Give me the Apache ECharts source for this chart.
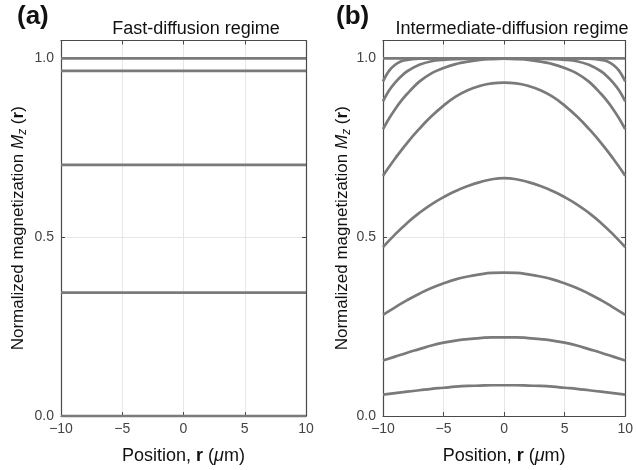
<!DOCTYPE html>
<html><head><meta charset="utf-8">
<script src="https://cdn.jsdelivr.net/npm/echarts@6/dist/echarts.min.js"></script>
<style>html,body{margin:0;padding:0;background:#fff}#c{width:636px;height:470px}</style>
</head><body><div id="c"></div>
<script>
// ---------- data ----------
const xTicks = [-10, -5, 0, 5, 10];
const yTicks = [0.0, 0.5, 1.0];
const xRange = [-10, 10];
// panel (a): flat magnetization levels
const fastLevels = [1.0, 0.965, 0.702, 0.345, 0.0];
// panel (b): positions and profiles
const xPositionsFine = [-10,-9.5,-9,-8.5,-8,-7,-6,-5,-4,-3,-2,-1,0,1,2,3,4,5,6,7,8,8.5,9,9.5,10];
const xPositions = [-10,-9,-8,-7,-6,-5,-4,-3,-2,-1,0,1,2,3,4,5,6,7,8,9,10];
const curveFlat = [1,1,1,1,1,1,1,1,1,1,1,1,1,1,1,1,1,1,1,1,1];
const curveA = [0.936,0.965,0.982,0.992,0.996,0.999,1,1,1,1,1,1,1,1,1,1,1,1,1,0.999,0.996,0.992,0.982,0.965,0.936];
const curveB = [0.880,0.910,0.932,0.950,0.964,0.982,0.992,0.996,0.998,0.999,1,1,1,1,1,0.999,0.998,0.996,0.992,0.982,0.964,0.950,0.932,0.910,0.880];
const curveC = [0.802,0.832,0.858,0.881,0.901,0.935,0.958,0.973,0.984,0.991,0.996,0.998,0.999,0.998,0.996,0.991,0.984,0.973,0.958,0.935,0.901,0.881,0.858,0.832,0.802];
const curveD = [0.672,0.720,0.764,0.803,0.838,0.868,0.893,0.911,0.923,0.930,0.932,0.930,0.923,0.911,0.893,0.868,0.838,0.803,0.764,0.720,0.672];
const curveE = [0.472,0.508,0.540,0.568,0.592,0.612,0.629,0.643,0.654,0.662,0.665,0.662,0.654,0.643,0.629,0.612,0.592,0.568,0.540,0.508,0.472];
const curveF = [0.283,0.304,0.324,0.342,0.358,0.371,0.382,0.390,0.396,0.400,0.401,0.400,0.396,0.390,0.382,0.371,0.358,0.342,0.324,0.304,0.283];
const curveG = [0.155,0.166,0.177,0.187,0.197,0.205,0.211,0.215,0.218,0.220,0.220,0.220,0.218,0.215,0.211,0.205,0.197,0.187,0.177,0.166,0.155];
const curveH = [0.060,0.064,0.068,0.072,0.076,0.079,0.082,0.084,0.085,0.086,0.086,0.086,0.085,0.084,0.082,0.079,0.076,0.072,0.068,0.064,0.060];
const fineCurves = [curveA, curveB, curveC];
const coarseCurves = [curveFlat, curveD, curveE, curveF, curveG, curveH];
const titles = ['Fast-diffusion regime', 'Intermediate-diffusion regime'];
const panelLetters = ['(a)', '(b)'];

// ---------- styles ----------
const FONT = '"Liberation Sans", Arial, Helvetica, sans-serif';
const LINE = '#7a7a7a';
const AX = '#4a4a4a';
const grids = [
  {left: 61, right: 330, top: 40.5, bottom: 52},
  {left: 383, right: 8, top: 40.5, bottom: 52}
];
function rich(fs) {
  return {
    n: {fontSize: fs, color: '#111', fontFamily: FONT, lineHeight: fs + 4},
    i: {fontSize: fs, color: '#111', fontFamily: FONT, fontStyle: 'italic', lineHeight: fs + 4},
    b: {fontSize: fs, color: '#111', fontFamily: FONT, fontWeight: 'bold', lineHeight: fs + 4},
    s: {fontSize: Math.round(fs * 0.7), color: '#111', fontFamily: FONT, fontStyle: 'italic', lineHeight: fs + 4, padding: [Math.round(fs * 0.55), 0, 0, 0]}
  };
}
const fmtMinus = v => String(v).replace('-', '\u2212');

const xAxes = [], yAxes = [], series = [];
[0, 1].forEach(g => {
  xAxes.push({
    type: 'value', gridIndex: g, min: xRange[0], max: xRange[1], interval: 5, position: 'bottom',
    axisLine: {show: true, onZero: false, lineStyle: {color: AX, width: 1.2}},
    axisTick: {show: true, inside: true, length: 4, lineStyle: {color: AX}},
    axisLabel: {color: '#444', fontSize: 14, fontFamily: FONT, margin: 6, formatter: v => xTicks.includes(v) ? fmtMinus(v) : ''},
    splitLine: {show: true, lineStyle: {color: '#e6e6e6', width: 1}},
    name: '{n|Position, }{b|r}{n| (}{i|\u03bc}{n|m)}', nameLocation: 'middle', nameGap: 29,
    nameTextStyle: {rich: rich(18)}
  });
  xAxes.push({
    type: 'value', gridIndex: g, min: xRange[0], max: xRange[1], interval: 5, position: 'top',
    axisLine: {show: true, onZero: false, lineStyle: {color: AX, width: 1.2}},
    axisTick: {show: true, inside: true, length: 4, lineStyle: {color: AX}},
    axisLabel: {show: false}, splitLine: {show: false}
  });
  yAxes.push({
    type: 'value', gridIndex: g, min: 0, max: 1.05, interval: 0.5, position: 'left',
    axisLine: {show: true, onZero: false, lineStyle: {color: AX, width: 1.2}},
    axisTick: {show: true, inside: true, length: 4, lineStyle: {color: AX}},
    axisLabel: {color: '#444', fontSize: 14, fontFamily: FONT, margin: 7, formatter: v => yTicks.some(t => Math.abs(t - v) < 1e-9) ? v.toFixed(1) : ''},
    splitLine: {show: true, lineStyle: {color: '#e6e6e6', width: 1}},
    name: '{n|Normalized magnetization }{i|M}{s|z}{n| (}{b|r}{n|)}', nameLocation: 'middle', nameGap: g === 0 ? 32 : 22,
    nameRotate: 90, nameTextStyle: {rich: rich(17)}
  });
  yAxes.push({
    type: 'value', gridIndex: g, min: 0, max: 1.05, interval: 0.5, position: 'right',
    axisLine: {show: true, onZero: false, lineStyle: {color: AX, width: 1.2}},
    axisTick: {show: true, inside: true, length: 4, lineStyle: {color: AX}},
    axisLabel: {show: false}, splitLine: {show: false}
  });
});

fastLevels.forEach(v => {
  series.push({
    type: 'line', xAxisIndex: 0, yAxisIndex: 0, showSymbol: false, silent: true,
    data: [[xRange[0], v], [xRange[1], v]],
    lineStyle: {color: LINE, width: 2.7}, clip: false
  });
});
function addCurve(xs, c, s) {
  series.push({
    type: 'line', xAxisIndex: 2, yAxisIndex: 2, showSymbol: false, silent: true,
    smooth: s,
    data: xs.map((x, i) => [x, c[i]]),
    lineStyle: {color: LINE, width: 2.7}, clip: false
  });
}
coarseCurves.forEach(c => addCurve(xPositions, c, 0.5));
fineCurves.forEach(c => addCurve(xPositionsFine, c, 0.35));

const chart = echarts.init(document.getElementById('c'), null, {renderer: 'canvas'});
chart.setOption({
  animation: false,
  backgroundColor: '#fff',
  grid: grids,
  xAxis: xAxes,
  yAxis: yAxes,
  title: [
    {text: titles[0], left: 191, top: 15, textAlign: 'center', textStyle: {fontSize: 18, fontWeight: 'normal', color: '#111', fontFamily: FONT}},
    {text: titles[1], left: 507, top: 15, textAlign: 'center', textStyle: {fontSize: 18, fontWeight: 'normal', color: '#111', fontFamily: FONT}}
  ],
  graphic: [
    {type: 'text', left: 17, top: 4, style: {text: panelLetters[0], font: 'bold 26px ' + FONT, fill: '#111'}},
    {type: 'text', left: 336, top: 4, style: {text: panelLetters[1], font: 'bold 26px ' + FONT, fill: '#111'}}
  ],
  series: series
});
</script>
</body></html>
